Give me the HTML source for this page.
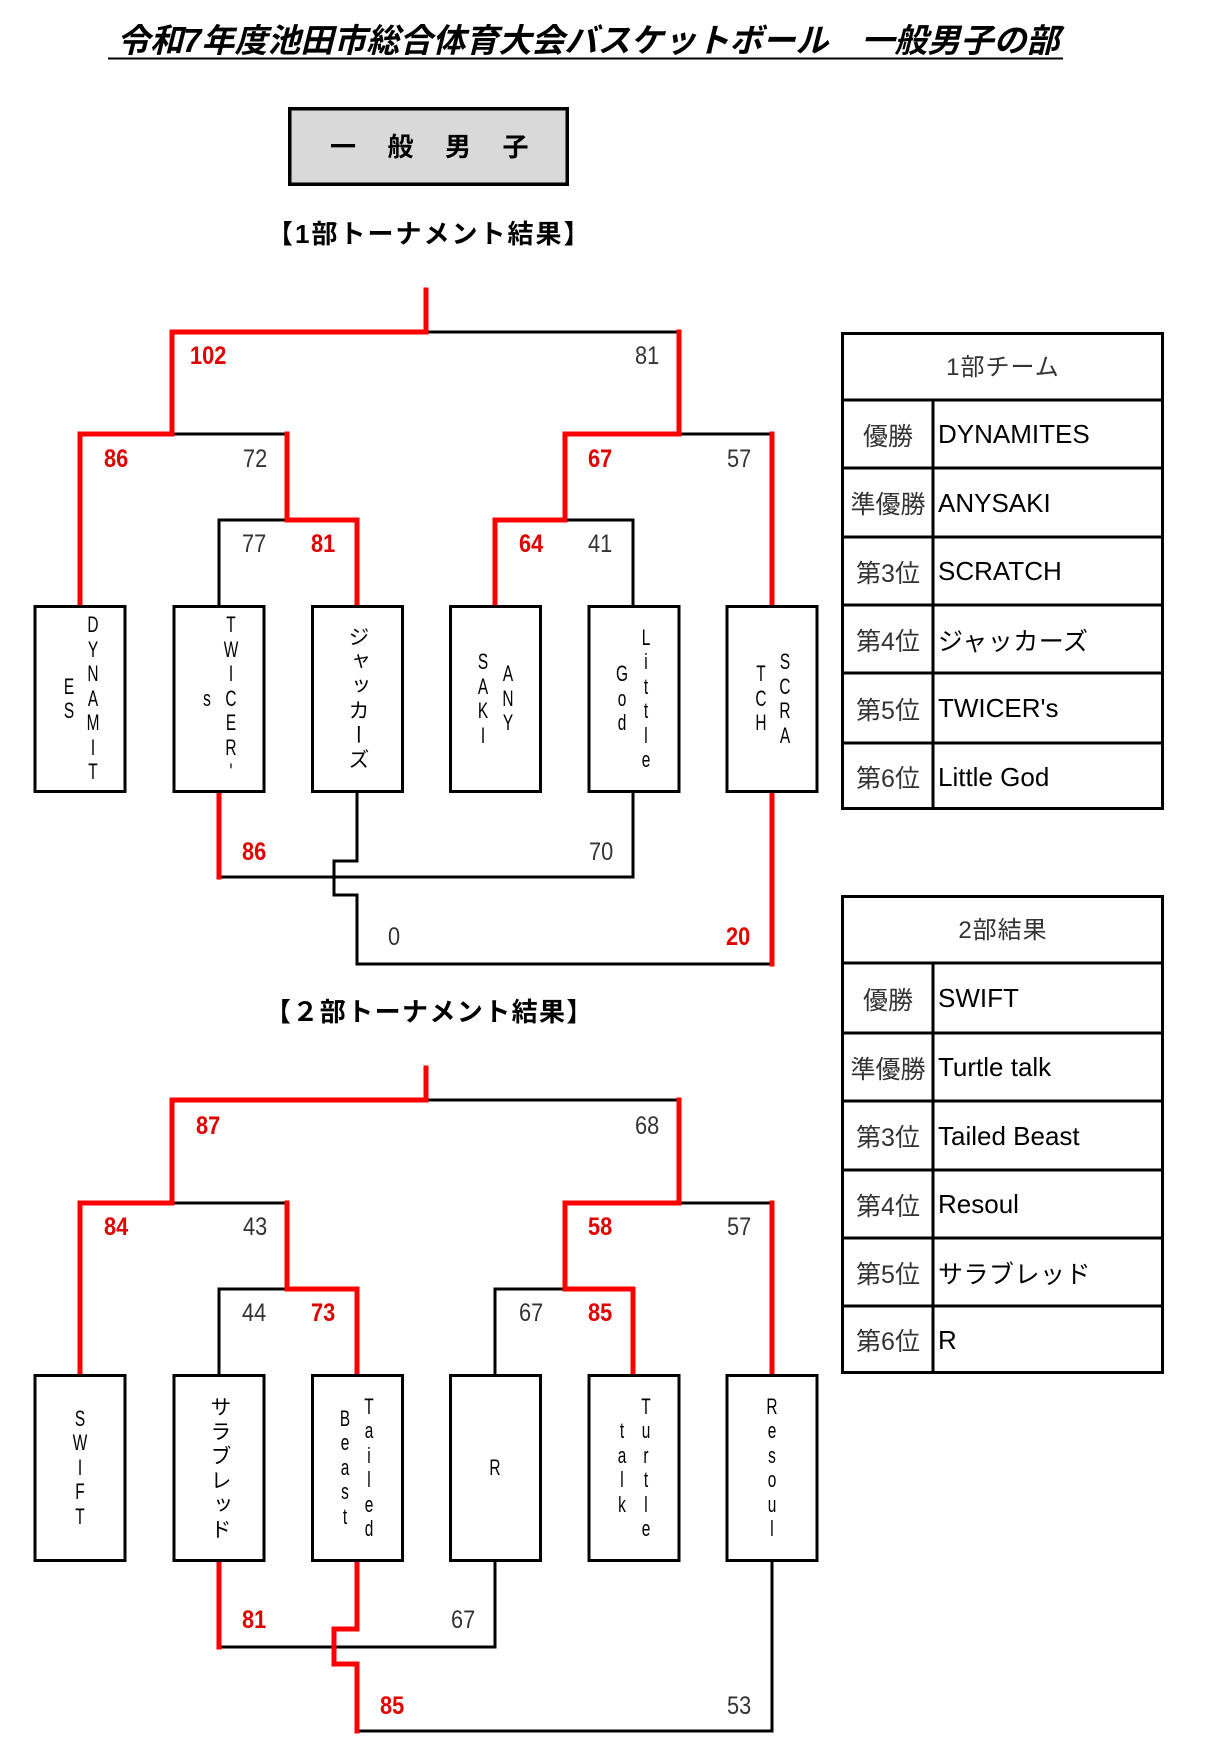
<!DOCTYPE html>
<html><head><meta charset="utf-8"><style>
*{margin:0;padding:0;box-sizing:border-box}
body{width:1208px;height:1760px;background:#fff;position:relative;overflow:hidden;font-family:"Liberation Sans","Noto Sans CJK JP",sans-serif;color:#000}
svg{position:absolute;left:0;top:0}
.t{position:absolute;white-space:nowrap}
.sc{position:absolute;font-size:25px;line-height:25px;transform:scaleX(0.87);transform-origin:left top;color:#333;white-space:nowrap}
.r{color:#e00000;font-weight:bold}
.col{position:absolute;width:24px;margin-left:-12px;text-align:center;font-size:22px;line-height:24.5px;transform:scaleX(0.7);transform-origin:center top;white-space:pre}
.kana{position:absolute;width:24px;margin-left:-12px;writing-mode:vertical-rl;font-size:21px;line-height:24px;letter-spacing:3.5px;font-family:"Liberation Sans","Noto Sans CJK JP",sans-serif;white-space:nowrap}
.cell{position:absolute;display:flex;align-items:center;white-space:nowrap}
.lab{left:843px;width:90px;justify-content:center;font-size:25px;color:#333}
.nm{left:938px;width:224px;font-size:26px;color:#000}
.hd{left:843px;width:320px;justify-content:center;font-size:24px;color:#333;letter-spacing:1px}
</style></head><body>
<svg width="1208" height="1760" viewBox="0 0 1208 1760">
<line x1="108" y1="58.5" x2="1063" y2="58.5" stroke="#000" stroke-width="2"/>
<rect x="289.75" y="108.75" width="277.5" height="75.5" fill="#d9d9d9" stroke="#000" stroke-width="3.5"/>

<g fill="none" stroke-linejoin="miter" stroke-linecap="square">
<g stroke="#000" stroke-width="3">
<path d="M426,332 H679"/>
<path d="M172,434 H287"/>
<path d="M679,434 H772"/>
<path d="M219,605 V520 H287"/>
<path d="M565,520 H633 V605"/>
<path d="M633,793 V877 H219"/>
<path d="M357,793 V861 H334 V895 H357 V964 H772"/>
</g>
<g stroke="#ff0000" stroke-width="5">
<path d="M426,290 V332 H172 V434 H80 V603"/>
<path d="M287,434 V520 H357 V603"/>
<path d="M679,332 V434 H565 V520 H495 V603"/>
<path d="M772,434 V603"/>
<path d="M219,795 V877"/>
<path d="M772,795 V964"/>
</g>
<g stroke="#000" stroke-width="3">
<path d="M426,1100 H679"/>
<path d="M172,1203 H287"/>
<path d="M679,1203 H772"/>
<path d="M219,1374 V1289 H287"/>
<path d="M495,1374 V1289 H565"/>
<path d="M219,1647 H495 V1562"/>
<path d="M357,1731 H772 V1562"/>
</g>
<g stroke="#ff0000" stroke-width="5">
<path d="M426,1068 V1100 H172 V1203 H80 V1372"/>
<path d="M287,1203 V1289 H357 V1372"/>
<path d="M679,1100 V1203 H565 V1289 H633 V1372"/>
<path d="M772,1203 V1372"/>
<path d="M219,1564 V1647"/>
<path d="M357,1564 V1629 H334 V1664 H357 V1731"/>
</g>
</g>

<g fill="#fff" stroke="#000" stroke-width="3">
<rect x="35" y="606.5" width="90" height="185"/>
<rect x="174" y="606.5" width="90" height="185"/>
<rect x="312.5" y="606.5" width="90" height="185"/>
<rect x="450.5" y="606.5" width="90" height="185"/>
<rect x="589" y="606.5" width="90" height="185"/>
<rect x="727" y="606.5" width="90" height="185"/>
</g>
<g fill="#fff" stroke="#000" stroke-width="3">
<rect x="35" y="1375.5" width="90" height="185"/>
<rect x="174" y="1375.5" width="90" height="185"/>
<rect x="312.5" y="1375.5" width="90" height="185"/>
<rect x="450.5" y="1375.5" width="90" height="185"/>
<rect x="589" y="1375.5" width="90" height="185"/>
<rect x="727" y="1375.5" width="90" height="185"/>
</g>

<g fill="none" stroke="#000" stroke-width="3">
<rect x="842.5" y="333.5" width="320" height="475"/>
<line x1="841" y1="400" x2="1164" y2="400"/>
<line x1="841" y1="468" x2="1164" y2="468"/>
<line x1="841" y1="537" x2="1164" y2="537"/>
<line x1="841" y1="605" x2="1164" y2="605"/>
<line x1="841" y1="673" x2="1164" y2="673"/>
<line x1="841" y1="743" x2="1164" y2="743"/>
<line x1="933" y1="400" x2="933" y2="810"/>
</g>
<g fill="none" stroke="#000" stroke-width="3">
<rect x="842.5" y="896.5" width="320" height="476"/>
<line x1="841" y1="963" x2="1164" y2="963"/>
<line x1="841" y1="1033" x2="1164" y2="1033"/>
<line x1="841" y1="1101" x2="1164" y2="1101"/>
<line x1="841" y1="1170" x2="1164" y2="1170"/>
<line x1="841" y1="1238" x2="1164" y2="1238"/>
<line x1="841" y1="1306" x2="1164" y2="1306"/>
<line x1="933" y1="963" x2="933" y2="1374"/>
</g>
</svg>

<div class="t" style="left:117px;top:24px;font-size:33px;line-height:33px;font-weight:bold;font-style:italic;">令和7年度池田市総合体育大会バスケットボール　一般男子の部</div>
<div class="t" style="left:330px;top:134px;font-size:26px;line-height:26px;font-weight:bold;letter-spacing:31.5px;">一般男子</div>
<div class="t" style="left:267px;top:221px;font-size:26px;line-height:26px;font-weight:bold;letter-spacing:2px;">【1部トーナメント結果】</div>
<div class="t" style="left:265px;top:999px;font-size:26px;line-height:26px;font-weight:bold;letter-spacing:1.4px;">【２部トーナメント結果】</div>

<div class="sc r" style="left:190px;top:344px">102</div>
<div class="sc" style="left:635px;top:344px">81</div>
<div class="sc r" style="left:104px;top:447px">86</div>
<div class="sc" style="left:243px;top:447px">72</div>
<div class="sc r" style="left:588px;top:447px">67</div>
<div class="sc" style="left:727px;top:447px">57</div>
<div class="sc" style="left:242px;top:532px">77</div>
<div class="sc r" style="left:311px;top:532px">81</div>
<div class="sc r" style="left:519px;top:532px">64</div>
<div class="sc" style="left:588px;top:532px">41</div>
<div class="sc r" style="left:242px;top:840px">86</div>
<div class="sc" style="left:589px;top:840px">70</div>
<div class="sc" style="left:388px;top:925px">0</div>
<div class="sc r" style="left:726px;top:925px">20</div>

<div class="sc r" style="left:196px;top:1114px">87</div>
<div class="sc" style="left:635px;top:1114px">68</div>
<div class="sc r" style="left:104px;top:1215px">84</div>
<div class="sc" style="left:243px;top:1215px">43</div>
<div class="sc r" style="left:588px;top:1215px">58</div>
<div class="sc" style="left:727px;top:1215px">57</div>
<div class="sc" style="left:242px;top:1301px">44</div>
<div class="sc r" style="left:311px;top:1301px">73</div>
<div class="sc" style="left:519px;top:1301px">67</div>
<div class="sc r" style="left:588px;top:1301px">85</div>
<div class="sc r" style="left:242px;top:1608px">81</div>
<div class="sc" style="left:451px;top:1608px">67</div>
<div class="sc r" style="left:380px;top:1694px">85</div>
<div class="sc" style="left:727px;top:1694px">53</div>

<div class="col" style="left:93px;top:613px">D
Y
N
A
M
I
T</div>
<div class="col" style="left:69px;top:674.5px">E
S</div>
<div class="col" style="left:231px;top:613px">T
W
I
C
E
R
'</div>
<div class="col" style="left:207px;top:686.75px">s</div>
<div class="kana" style="left:357px;top:625.5px">ジャッカーズ</div>
<div class="col" style="left:508px;top:662.25px">A
N
Y</div>
<div class="col" style="left:483px;top:650px">S
A
K
I</div>
<div class="col" style="left:646px;top:625.5px">L
i
t
t
l
e</div>
<div class="col" style="left:622px;top:662.25px">G
o
d</div>
<div class="col" style="left:785px;top:650px">S
C
R
A</div>
<div class="col" style="left:761px;top:662.25px">T
C
H</div>

<div class="col" style="left:80px;top:1406.75px">S
W
I
F
T</div>
<div class="kana" style="left:219px;top:1395.5px">サラブレッド</div>
<div class="col" style="left:369px;top:1394.5px">T
a
i
l
e
d</div>
<div class="col" style="left:345px;top:1406.75px">B
e
a
s
t</div>
<div class="col" style="left:495px;top:1455.75px">R</div>
<div class="col" style="left:646px;top:1394.5px">T
u
r
t
l
e</div>
<div class="col" style="left:622px;top:1419px">t
a
l
k</div>
<div class="col" style="left:772px;top:1394.5px">R
e
s
o
u
l</div>

<div class="cell hd" style="top:331px;height:66px">1部チーム</div>
<div class="cell lab" style="top:401px;height:67px">優勝</div>
<div class="cell nm" style="top:401px;height:67px">DYNAMITES</div>
<div class="cell lab" style="top:469px;height:68px">準優勝</div>
<div class="cell nm" style="top:469px;height:68px">ANYSAKI</div>
<div class="cell lab" style="top:538px;height:67px">第3位</div>
<div class="cell nm" style="top:538px;height:67px">SCRATCH</div>
<div class="cell lab" style="top:606px;height:67px">第4位</div>
<div class="cell nm" style="top:606px;height:67px;font-size:25px;letter-spacing:0.5px">ジャッカーズ</div>
<div class="cell lab" style="top:674px;height:69px">第5位</div>
<div class="cell nm" style="top:674px;height:69px">TWICER's</div>
<div class="cell lab" style="top:744px;height:66px">第6位</div>
<div class="cell nm" style="top:744px;height:66px">Little God</div>

<div class="cell hd" style="top:894px;height:66px">2部結果</div>
<div class="cell lab" style="top:964px;height:69px">優勝</div>
<div class="cell nm" style="top:964px;height:69px">SWIFT</div>
<div class="cell lab" style="top:1034px;height:67px">準優勝</div>
<div class="cell nm" style="top:1034px;height:67px">Turtle talk</div>
<div class="cell lab" style="top:1102px;height:68px">第3位</div>
<div class="cell nm" style="top:1102px;height:68px">Tailed Beast</div>
<div class="cell lab" style="top:1171px;height:67px">第4位</div>
<div class="cell nm" style="top:1171px;height:67px">Resoul</div>
<div class="cell lab" style="top:1239px;height:67px">第5位</div>
<div class="cell nm" style="top:1239px;height:67px;font-size:25px;letter-spacing:0.5px">サラブレッド</div>
<div class="cell lab" style="top:1307px;height:66px">第6位</div>
<div class="cell nm" style="top:1307px;height:66px">R</div>
</body></html>
